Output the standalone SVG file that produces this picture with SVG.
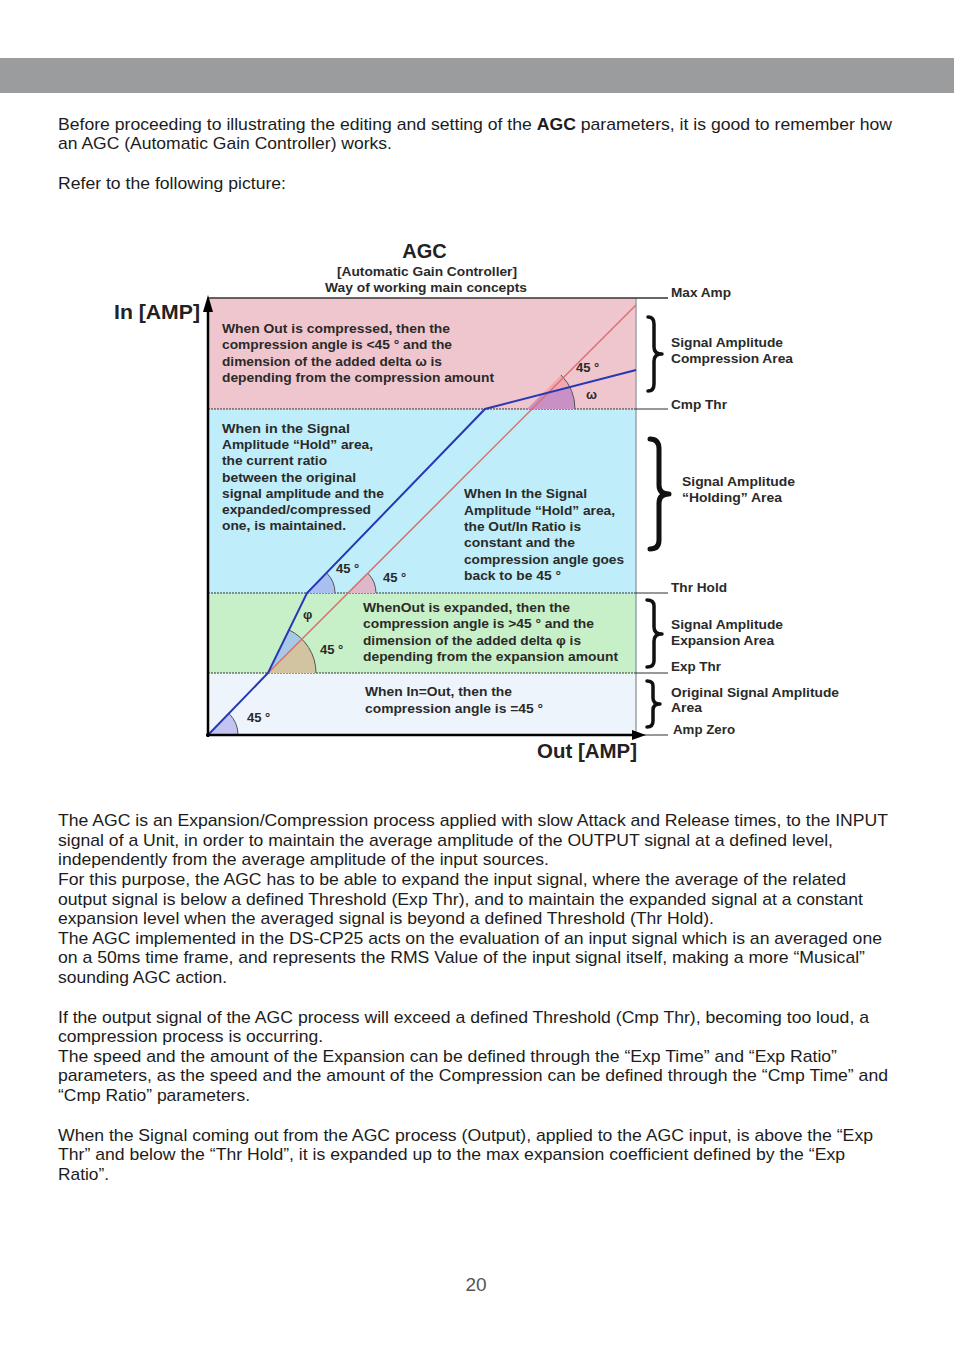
<svg xmlns="http://www.w3.org/2000/svg" width="954" height="1350" viewBox="0 0 954 1350">
<style>
.body{font-family:"Liberation Sans",Arial,sans-serif;font-size:17px;fill:#1c1c1c}
.d{font-family:"Liberation Sans",Arial,sans-serif;font-weight:bold;font-size:13px;fill:#2a2a2a}
.big{font-family:"Liberation Sans",Arial,sans-serif;font-weight:bold;font-size:20px;fill:#222}
.arc{fill:none;stroke:#555;stroke-width:1}
.brace{fill:none;stroke:#111;stroke-linecap:round;stroke-linejoin:round}
.sep{stroke:#333;stroke-width:1.2;stroke-dasharray:2 1}
.tick{stroke:#333;stroke-width:1}
</style>
<rect width="954" height="1350" fill="#fff"/>
<rect id="header" x="0" y="58" width="954" height="35" fill="#9b9c9e"/>

<g id="intro" class="body">
<text x="58" y="130" textLength="834" lengthAdjust="spacingAndGlyphs">Before proceeding to illustrating the editing and setting of the <tspan font-weight="bold">AGC</tspan> parameters, it is good to remember how</text>
<text x="58" y="149" textLength="334" lengthAdjust="spacingAndGlyphs">an AGC (Automatic Gain Controller) works.</text>
<text x="58" y="189" textLength="228" lengthAdjust="spacingAndGlyphs">Refer to the following picture:</text>
</g>

<g id="diagram">
<g id="bands">
<rect id="band-compression" x="208" y="298" width="428" height="111" fill="#f0c6ce"/>
<rect id="band-hold" x="208" y="409" width="428" height="184" fill="#bfedf9"/>
<rect id="band-expansion" x="208" y="593" width="428" height="80" fill="#c8f0c8"/>
<rect id="band-original" x="208" y="673" width="428" height="62" fill="#eef4fc"/>
<line x1="636" y1="298" x2="636" y2="735" stroke="#9aa3a8" stroke-width="1.5"/>
<line x1="208" y1="298" x2="668" y2="298" stroke="#333" stroke-width="1.3"/>
<line class="sep" x1="208" y1="409" x2="636" y2="409"/>
<line class="sep" x1="208" y1="593" x2="636" y2="593"/>
<line class="sep" x1="208" y1="673" x2="636" y2="673"/>
<line class="tick" x1="636" y1="409" x2="668" y2="409"/>
<line class="tick" x1="636" y1="593" x2="668" y2="593"/>
<line class="tick" x1="636" y1="673" x2="668" y2="673"/>
<line class="tick" x1="636" y1="735" x2="668" y2="735"/>
</g>

<g id="angles">
<path d="M208,735 L238,735 A30,30 0 0 0 229.2,713.8 Z" fill="#c4c4f2"/>
<path class="arc" d="M238,735 A30,30 0 0 0 229.2,713.8"/>
<path d="M307,593 L335,593 A28,28 0 0 0 326.8,573.2 Z" fill="#a9bff0"/>
<path class="arc" d="M335,593 A28,28 0 0 0 326.8,573.2"/>
<path d="M348,593 L376,593 A28,28 0 0 0 367.8,573.2 Z" fill="#dcb8c8"/>
<path class="arc" d="M376,593 A28,28 0 0 0 367.8,573.2"/>
<path d="M268,673 L316,673 A48,48 0 0 0 301.9,639.1 Z" fill="#d2c4a0"/>
<path d="M268,673 L301.9,639.1 A48,48 0 0 0 289,629.9 Z" fill="#a8c8e8"/>
<path class="arc" d="M316,673 A48,48 0 0 0 289,629.9"/>
<path d="M527,409 L575,409 A48,48 0 0 0 569.7,387.3 L541.5,394.5 Z" fill="#c890c4"/>
<path d="M541.5,394.5 L569.7,387.3 A48,48 0 0 0 561,375 Z" fill="#f2a8b0"/>
<path class="arc" d="M575,409 A48,48 0 0 0 561,375"/>
</g>

<g id="connectors">
<line id="ref-45" x1="268" y1="673" x2="636" y2="305" stroke="#d9706e" stroke-width="1.5"/>
<polyline id="agc-curve" points="208,735 268,673 307,593 485,409 636,370" fill="none" stroke="#2638b4" stroke-width="2"/>
<line id="y-axis" x1="208" y1="737" x2="208" y2="308" stroke="#000" stroke-width="2.5"/>
<path d="M208,295 L213,312 L203,312 Z" fill="#000"/>
<line id="x-axis" x1="206" y1="735" x2="633" y2="735" stroke="#000" stroke-width="2.5"/>
<path d="M646,735 L632,730 L632,740 Z" fill="#000"/>
</g>

<g id="braces">
<path class="brace" stroke-width="3.5" d="M648,317 Q654,317 654,324 L654,347 Q654,354 662,354 Q654,354 654,361 L654,384 Q654,391 648,391"/>
<path class="brace" stroke-width="5" d="M650,439 Q659,439 659,449 L659,485 Q659,494 669,494 Q659,494 659,503 L659,540 Q659,549 650,549"/>
<path class="brace" stroke-width="3.5" d="M647,600 Q654,600 654,606 L654,627 Q654,634 662,634 Q654,634 654,641 L654,661 Q654,667 647,667"/>
<path class="brace" stroke-width="3.5" d="M647,681 Q653,681 653,686 L653,698 Q653,704 660,704 Q653,704 653,710 L653,721 Q653,727 647,727"/>
</g>

<g id="titles">
<text class="big" x="424.5" y="258" text-anchor="middle">AGC</text>
<text class="d" x="337" y="276" textLength="180" lengthAdjust="spacingAndGlyphs">[Automatic Gain Controller]</text>
<text class="d" x="325" y="292" textLength="202" lengthAdjust="spacingAndGlyphs">Way of working main concepts</text>
<text class="big" x="114" y="319" textLength="86" lengthAdjust="spacingAndGlyphs">In [AMP]</text>
<text class="big" x="537" y="758" textLength="100" lengthAdjust="spacingAndGlyphs">Out [AMP]</text>
</g>

<g id="compression-text" class="d">
<text x="222" y="333" textLength="228" lengthAdjust="spacingAndGlyphs">When Out is compressed, then the</text>
<text x="222" y="349" textLength="230" lengthAdjust="spacingAndGlyphs">compression angle is &lt;45 ° and the</text>
<text x="222" y="366" textLength="220" lengthAdjust="spacingAndGlyphs">dimension of the added delta ω is</text>
<text x="222" y="382" textLength="272" lengthAdjust="spacingAndGlyphs">depending from the compression amount</text>
<text x="576" y="372">45 °</text>
<text x="586" y="399">ω</text>
</g>

<g id="hold-text-left" class="d">
<text x="222" y="433" textLength="128" lengthAdjust="spacingAndGlyphs">When in  the Signal</text>
<text x="222" y="449" textLength="151" lengthAdjust="spacingAndGlyphs">Amplitude “Hold” area,</text>
<text x="222" y="465" textLength="105" lengthAdjust="spacingAndGlyphs">the current ratio</text>
<text x="222" y="482" textLength="134" lengthAdjust="spacingAndGlyphs">between the original</text>
<text x="222" y="498" textLength="162" lengthAdjust="spacingAndGlyphs">signal amplitude and the</text>
<text x="222" y="514" textLength="149" lengthAdjust="spacingAndGlyphs">expanded/compressed</text>
<text x="222" y="530" textLength="124" lengthAdjust="spacingAndGlyphs">one, is maintained.</text>
</g>

<g id="hold-text-right" class="d">
<text x="464" y="498" textLength="123" lengthAdjust="spacingAndGlyphs">When In the Signal</text>
<text x="464" y="515" textLength="151" lengthAdjust="spacingAndGlyphs">Amplitude “Hold” area,</text>
<text x="464" y="531" textLength="117" lengthAdjust="spacingAndGlyphs">the Out/In Ratio is</text>
<text x="464" y="547" textLength="111" lengthAdjust="spacingAndGlyphs">constant and the</text>
<text x="464" y="564" textLength="160" lengthAdjust="spacingAndGlyphs">compression angle goes</text>
<text x="464" y="580" textLength="97" lengthAdjust="spacingAndGlyphs">back to be 45 °</text>
<text x="336" y="573">45 °</text>
<text x="383" y="582">45 °</text>
</g>

<g id="expansion-text" class="d">
<text x="363" y="612" textLength="207" lengthAdjust="spacingAndGlyphs">WhenOut is expanded, then the</text>
<text x="363" y="628" textLength="231" lengthAdjust="spacingAndGlyphs">compression angle is &gt;45 ° and the</text>
<text x="363" y="645" textLength="218" lengthAdjust="spacingAndGlyphs">dimension of the added delta φ is</text>
<text x="363" y="661" textLength="255" lengthAdjust="spacingAndGlyphs">depending from the expansion amount</text>
<text x="303" y="619">φ</text>
<text x="320" y="654">45 °</text>
</g>

<g id="original-text" class="d">
<text x="365" y="696" textLength="147" lengthAdjust="spacingAndGlyphs">When In=Out, then the</text>
<text x="365" y="713" textLength="178" lengthAdjust="spacingAndGlyphs">compression angle is =45 °</text>
<text x="247" y="722">45 °</text>
</g>

<g id="right-labels" class="d">
<text x="671" y="297" textLength="60" lengthAdjust="spacingAndGlyphs">Max Amp</text>
<text x="671" y="347" textLength="112" lengthAdjust="spacingAndGlyphs">Signal Amplitude</text>
<text x="671" y="363" textLength="122" lengthAdjust="spacingAndGlyphs">Compression Area</text>
<text x="671" y="409" textLength="56" lengthAdjust="spacingAndGlyphs">Cmp Thr</text>
<text x="682" y="486" textLength="113" lengthAdjust="spacingAndGlyphs">Signal Amplitude</text>
<text x="682" y="502" textLength="100" lengthAdjust="spacingAndGlyphs">“Holding” Area</text>
<text x="671" y="592" textLength="56" lengthAdjust="spacingAndGlyphs">Thr Hold</text>
<text x="671" y="629" textLength="112" lengthAdjust="spacingAndGlyphs">Signal Amplitude</text>
<text x="671" y="645" textLength="103" lengthAdjust="spacingAndGlyphs">Expansion Area</text>
<text x="671" y="671" textLength="50" lengthAdjust="spacingAndGlyphs">Exp Thr</text>
<text x="671" y="697" textLength="168" lengthAdjust="spacingAndGlyphs">Original Signal Amplitude</text>
<text x="671" y="712" textLength="31" lengthAdjust="spacingAndGlyphs">Area</text>
<text x="673" y="734" textLength="62" lengthAdjust="spacingAndGlyphs">Amp Zero</text>
</g>
</g>

<g id="explanation" class="body">
<text x="58" y="826" textLength="830" lengthAdjust="spacingAndGlyphs">The AGC is an Expansion/Compression process applied with slow Attack and Release times, to the INPUT</text>
<text x="58" y="846" textLength="775" lengthAdjust="spacingAndGlyphs">signal of a Unit, in order to maintain the average amplitude of the OUTPUT signal at a defined level,</text>
<text x="58" y="865" textLength="491" lengthAdjust="spacingAndGlyphs">independently from the average amplitude of the input sources.</text>
<text x="58" y="885" textLength="788" lengthAdjust="spacingAndGlyphs">For this purpose, the AGC has to be able to expand the input signal, where the average of the related</text>
<text x="58" y="905" textLength="805" lengthAdjust="spacingAndGlyphs">output signal is below a defined Threshold (Exp Thr), and to maintain the expanded signal at a constant</text>
<text x="58" y="924" textLength="656" lengthAdjust="spacingAndGlyphs">expansion level when the averaged signal is beyond a defined Threshold (Thr Hold).</text>
<text x="58" y="944" textLength="824" lengthAdjust="spacingAndGlyphs">The AGC implemented in the DS-CP25 acts on the evaluation of an input signal which is an averaged one</text>
<text x="58" y="963" textLength="807" lengthAdjust="spacingAndGlyphs">on a 50ms time frame, and represents the RMS Value of the input signal itself, making a more “Musical”</text>
<text x="58" y="983" textLength="169" lengthAdjust="spacingAndGlyphs">sounding AGC action.</text>
<text x="58" y="1023" textLength="811" lengthAdjust="spacingAndGlyphs">If the output signal of the AGC process will exceed a defined Threshold (Cmp Thr), becoming too loud, a</text>
<text x="58" y="1042" textLength="265" lengthAdjust="spacingAndGlyphs">compression process is occurring.</text>
<text x="58" y="1062" textLength="779" lengthAdjust="spacingAndGlyphs">The speed and the amount of the Expansion can be defined through the “Exp Time” and “Exp Ratio”</text>
<text x="58" y="1081" textLength="830" lengthAdjust="spacingAndGlyphs">parameters, as the speed and the amount of the Compression can be defined through the “Cmp Time” and</text>
<text x="58" y="1101" textLength="192" lengthAdjust="spacingAndGlyphs">“Cmp Ratio” parameters.</text>
<text x="58" y="1141" textLength="815" lengthAdjust="spacingAndGlyphs">When the Signal coming out from the AGC process (Output), applied to the AGC input, is above the “Exp</text>
<text x="58" y="1160" textLength="787" lengthAdjust="spacingAndGlyphs">Thr” and below the “Thr Hold”, it is expanded up to the max expansion coefficient defined by the “Exp</text>
<text x="58" y="1180" textLength="51" lengthAdjust="spacingAndGlyphs">Ratio”.</text>
</g>

<text id="page-number" x="476" y="1291" text-anchor="middle" font-family="Liberation Sans, Arial, sans-serif" font-size="19" fill="#555">20</text>
</svg>
